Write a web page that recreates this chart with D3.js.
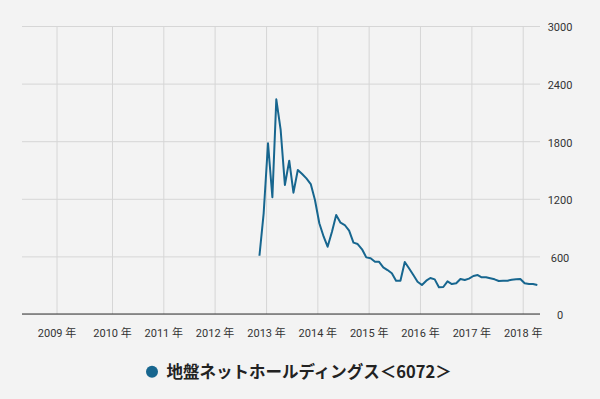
<!DOCTYPE html>
<html><head><meta charset="utf-8">
<script src="https://cdn.jsdelivr.net/npm/d3@7"></script>
<style>
html,body{margin:0;padding:0;background:#f3f3f3;}
svg{display:block;}
</style></head>
<body>
<svg id="chart" width="600" height="399"></svg>
<script>
// ---- data ----
const seriesName = "地盤ネットホールディングス＜6072＞";
const startMonth = "2012-11";
const values = [
  607, 1049,
  1778, 1216, 2236, 1917, 1344, 1597, 1264, 1500, 1458, 1413, 1354, 1187,
  945, 805, 701, 857, 1031, 951, 927, 868, 743, 729, 674, 590,
  580, 545, 545, 486, 458, 424, 347, 347, 542, 476, 406, 336,
  302, 347, 375, 361, 278, 281, 340, 312, 320, 365, 354, 368,
  396, 406, 382, 382, 372, 361, 344, 347, 347, 357, 361, 365,
  320, 312, 312, 302
];
const yearTicks = [2009, 2010, 2011, 2012, 2013, 2014, 2015, 2016, 2017, 2018];
const yTicks = [0, 600, 1200, 1800, 2400, 3000];

// ---- build ----
const [sy, sm] = startMonth.split("-").map(Number);
const data = values.map((v, i) => ({ date: new Date(sy, sm - 1 + i, 15), value: v }));

const svg = d3.select("#chart");
const W = 600, H = 399;
svg.append("rect").attr("width", W).attr("height", H).attr("fill", "#f3f3f3");

const x = d3.scaleTime()
  .domain([new Date(2009, 0, 1), new Date(2010, 0, 1), new Date(2018, 0, 1)])
  .range([56.5, 112, 522.7]);
const y = d3.scaleLinear().domain([0, 3000]).range([314, 26]);

const plotLeft = 22, plotRight = 540;
const font = "Roboto, 'Noto Sans CJK JP', sans-serif";

// horizontal grid
const gy = svg.append("g")
  .attr("transform", `translate(${plotRight},0)`)
  .call(d3.axisRight(y).tickValues(yTicks).tickSize(-(plotRight - plotLeft)).tickFormat(d => d).tickPadding(12));
gy.select(".domain").remove();
gy.selectAll(".tick line").attr("stroke", "#d6d6d6").attr("stroke-width", 1);
gy.selectAll(".tick text").attr("font-family", font).attr("font-size", 11).attr("fill", "#333")
  .attr("text-anchor", "middle").attr("x", 20).attr("dy", "0.45em");

// vertical grid + labels
const gx = svg.append("g")
  .attr("transform", `translate(0,314)`)
  .call(d3.axisBottom(x).tickValues(yearTicks.map(yr => new Date(yr, 0, 1)))
    .tickSize(-(314 - 26)).tickFormat(d => d.getFullYear() + " 年").tickPadding(15));
gx.select(".domain").remove();
gx.selectAll(".tick line").attr("stroke", "#d6d6d6").attr("stroke-width", 1);
gx.selectAll(".tick text").attr("font-family", font).attr("font-size", 11).attr("fill", "#333");

// baseline axis line
svg.append("line").attr("x1", plotLeft).attr("x2", plotRight)
  .attr("y1", y(0)).attr("y2", y(0)).attr("stroke", "#333").attr("stroke-width", 1);

// series line
const line = d3.line().x(d => x(d.date)).y(d => y(d.value));
svg.append("path").datum(data).attr("d", line)
  .attr("fill", "none").attr("stroke", "#17668f").attr("stroke-width", 2)
  .attr("stroke-linejoin", "round");

// legend
const lg = svg.append("g");
lg.append("circle").attr("cx", 152).attr("cy", 371.7).attr("r", 6).attr("fill", "#17668f");
lg.append("text").attr("x", 166.5).attr("y", 377.5)
  .attr("font-family", "'Noto Sans CJK JP', sans-serif").attr("font-weight", "bold")
  .attr("font-size", 16.5).attr("fill", "#222").text(seriesName);
</script>
</body></html>
